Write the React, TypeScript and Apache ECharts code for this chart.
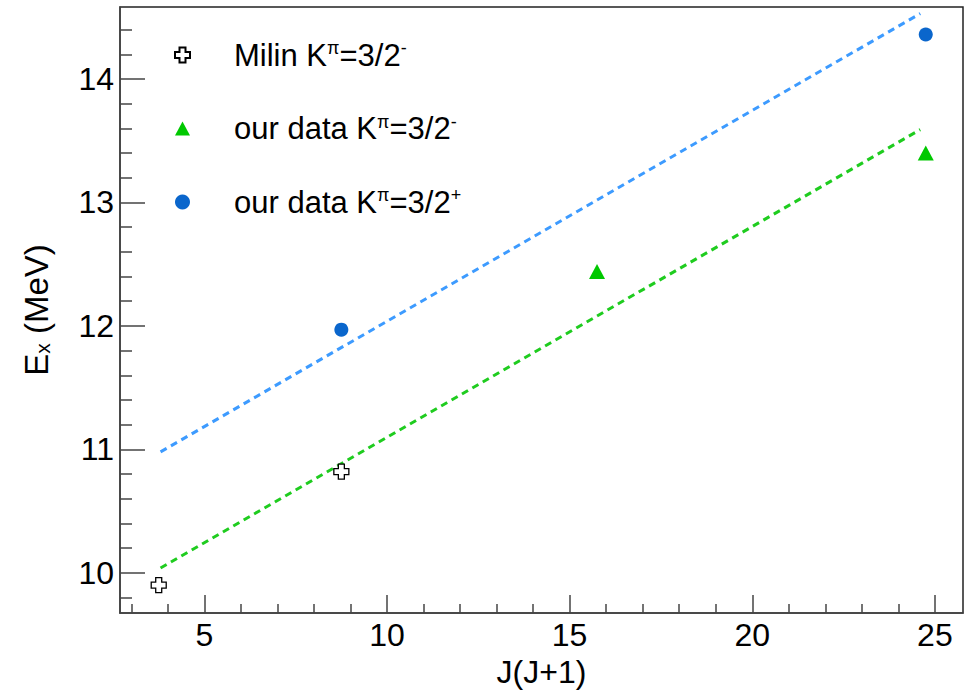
import React, { useEffect, useRef } from "react";
import * as echarts from "echarts";

// ---- data ----
const milinPoints: [number, number][] = [
  [3.75, 9.9],
  [8.75, 10.82],
];
const greenPoints: [number, number][] = [
  [15.75, 12.44],
  [24.75, 13.4],
];
const bluePoints: [number, number][] = [
  [8.75, 11.97],
  [24.75, 14.36],
];
const blueFit: [number, number][] = [
  [3.8, 10.98],
  [24.6, 14.53],
];
const greenFit: [number, number][] = [
  [3.8, 10.04],
  [24.6, 13.59],
];
const xMajorTicks = [5, 10, 15, 20, 25];
const xMinorTicks = [3, 4, 6, 7, 8, 9, 11, 12, 13, 14, 16, 17, 18, 19, 21, 22, 23, 24];
const yMajorTicks = [10, 11, 12, 13, 14];
const yMinorTicks = [9.8, 10.2, 10.4, 10.6, 10.8, 11.2, 11.4, 11.6, 11.8, 12.2, 12.4, 12.6, 12.8, 13.2, 13.4, 13.6, 13.8, 14.2, 14.4];

const seriesNames = ["Milin Kπ=3/2-", "our data Kπ=3/2- ", "our data Kπ=3/2+"];
const legendRich: Record<string, string> = {
  [seriesNames[0]]: "{sp|}{t|Milin K}{s|π}{t|=3/2}{s|-}",
  [seriesNames[1]]: "{sp|}{t|our data K}{s|π}{t|=3/2}{s|-}",
  [seriesNames[2]]: "{sp|}{t|our data K}{s|π}{t|=3/2}{s|+}",
};

const X_MIN = 2.69;
const X_MAX = 25.77;
const Y_MIN = 9.675;
const Y_MAX = 14.583;

const FONT = "'Liberation Sans', Arial, Helvetica, sans-serif";
const crossPath = "path://M3,0 H7 V3 H10 V7 H7 V10 H3 V7 H0 V3 H3 Z";
const trianglePath = "path://M5,0 L10,9.4 L0,9.4 Z";

export default function App() {
  const ref = useRef<HTMLDivElement>(null);
  useEffect(() => {
    if (!ref.current) return;
    const chart = echarts.init(ref.current, null, { renderer: "svg" });
    const axisCommon = {
      type: "value" as const,
      splitLine: { show: false },
    };
    chart.setOption({
      animation: false,
      backgroundColor: "#fff",
      textStyle: { fontFamily: FONT },
      grid: {
        left: 120,
        right: 4,
        top: 7,
        bottom: 77,
        show: true,
        borderColor: "#222",
        borderWidth: 1.5,
      },
      legend: {
        data: seriesNames,
        orient: "vertical",
        left: 174,
        top: 39,
        padding: 0,
        itemWidth: 15,
        itemHeight: 15,
        itemGap: 42,
        formatter: (name: string) => legendRich[name] || name,
        textStyle: {
          fontFamily: FONT,
          color: "#000",
          rich: {
            sp: { width: 39, fontSize: 31, lineHeight: 32 },
            t: { fontSize: 31, lineHeight: 32, fontFamily: FONT, color: "#000" },
            s: { fontSize: 18, lineHeight: 18, verticalAlign: "top", fontFamily: FONT, color: "#000" },
          },
        },
      },
      xAxis: [
        {
          ...axisCommon,
          min: X_MIN,
          max: X_MAX,
          axisLine: { show: true, lineStyle: { color: "#444", width: 1.5 } },
          axisTick: { show: true, inside: true, length: 18, customValues: xMajorTicks, lineStyle: { color: "#444", width: 1.5 } },
          axisLabel: { customValues: xMajorTicks, fontSize: 32, color: "#000", margin: 6, fontFamily: FONT },
          name: "J(J+1)",
          nameLocation: "middle",
          nameGap: 43,
          nameTextStyle: { fontSize: 32, color: "#000", fontFamily: FONT },
        },
        {
          ...axisCommon,
          min: X_MIN,
          max: X_MAX,
          position: "bottom",
          axisLine: { show: false },
          axisTick: { show: true, inside: true, length: 9, customValues: xMinorTicks, lineStyle: { color: "#444", width: 1.5 } },
          axisLabel: { show: false },
        },
      ],
      yAxis: [
        {
          ...axisCommon,
          min: Y_MIN,
          max: Y_MAX,
          axisLine: { show: true, lineStyle: { color: "#444", width: 1.5 } },
          axisTick: { show: true, inside: true, length: 25, customValues: yMajorTicks, lineStyle: { color: "#444", width: 1.5 } },
          axisLabel: { customValues: yMajorTicks, fontSize: 32, color: "#000", margin: 6, fontFamily: FONT },
          name: "{e|E}{sub|x}{e| (MeV)}",
          nameLocation: "middle",
          nameRotate: 90,
          nameGap: 67,
          nameTextStyle: {
            fontFamily: FONT,
            color: "#000",
            rich: {
              e: { fontSize: 33, lineHeight: 34, fontFamily: FONT, color: "#000" },
              sub: { fontSize: 21, lineHeight: 20, verticalAlign: "bottom", fontFamily: FONT, color: "#000" },
            },
          },
        },
        {
          ...axisCommon,
          min: Y_MIN,
          max: Y_MAX,
          position: "left",
          axisLine: { show: false },
          axisTick: { show: true, inside: true, length: 12, customValues: yMinorTicks, lineStyle: { color: "#444", width: 1.5 } },
          axisLabel: { show: false },
        },
      ],
      series: [
        {
          name: "blue fit",
          type: "line",
          data: blueFit,
          showSymbol: false,
          silent: true,
          z: 2,
          lineStyle: { color: "#3d9bff", width: 3, type: [7, 5] },
        },
        {
          name: "green fit",
          type: "line",
          data: greenFit,
          showSymbol: false,
          silent: true,
          z: 2,
          lineStyle: { color: "#1fcc1f", width: 3, type: [7, 5] },
        },
        {
          name: seriesNames[0],
          type: "scatter",
          data: milinPoints,
          symbol: crossPath,
          symbolSize: 15,
          symbolKeepAspect: true,
          z: 5,
          itemStyle: { color: "#fff", borderColor: "#000", borderWidth: 1.3, opacity: 1 },
        },
        {
          name: seriesNames[1],
          type: "scatter",
          data: greenPoints,
          symbol: trianglePath,
          symbolSize: 16,
          symbolKeepAspect: true,
          z: 5,
          itemStyle: { color: "#00c800", opacity: 1 },
        },
        {
          name: seriesNames[2],
          type: "scatter",
          data: bluePoints,
          symbol: "circle",
          symbolSize: 14,
          symbolKeepAspect: true,
          z: 5,
          itemStyle: { color: "#0a66cc", opacity: 1 },
        },
      ],
    });
    return () => chart.dispose();
  }, []);
  return (
    <div
      ref={ref}
      style={{ position: "fixed", left: 0, top: 0, width: 967, height: 693, background: "#fff" }}
    />
  );
}
